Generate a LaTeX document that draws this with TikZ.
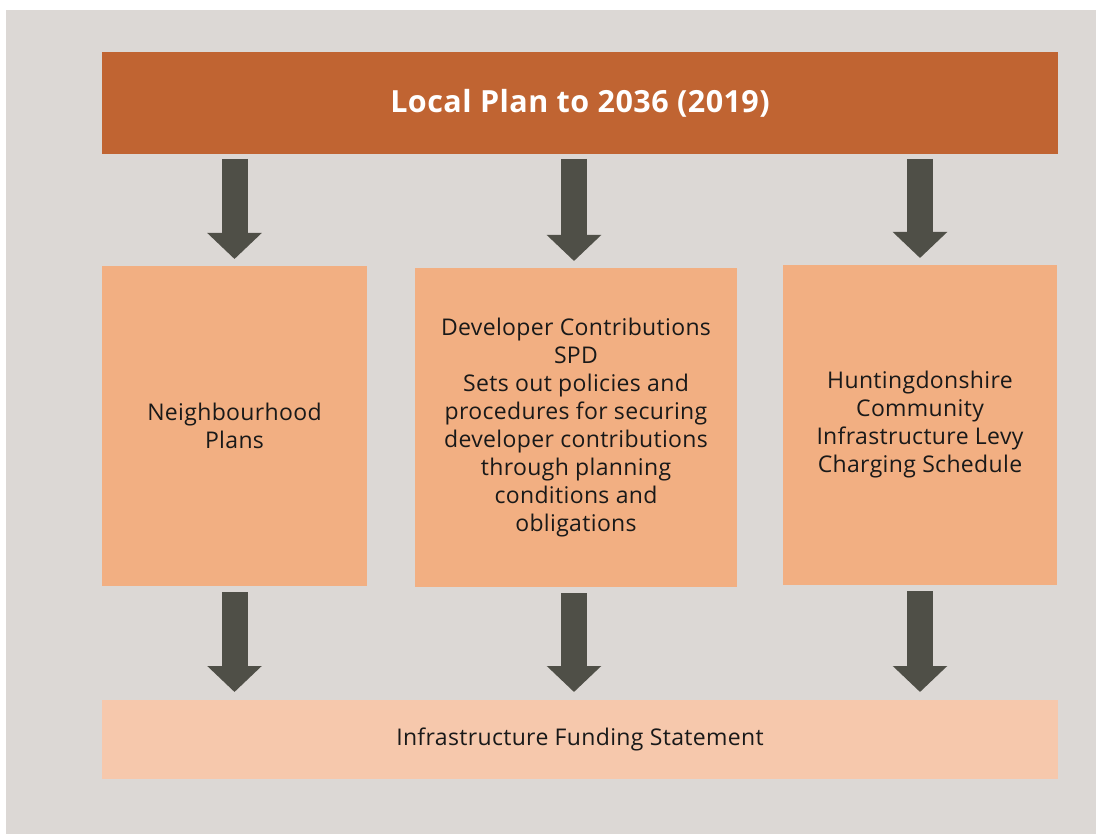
\documentclass[tikz,border=0pt]{standalone}
\usepackage{fontspec}
\setmainfont{Open Sans}[LetterSpace=1.5]
\definecolor{backdrop}{HTML}{DCD8D5}
\definecolor{rust}{HTML}{C06432}
\definecolor{peach}{HTML}{F2AF82}
\definecolor{blush}{HTML}{F6C8AC}
\definecolor{slate}{HTML}{4F4F47}
\usetikzlibrary{arrows.meta}

\begin{document}
\begin{tikzpicture}[
  x=1pt, y=-1pt,
  plan/.style={fill=rust, text=white, minimum width=956pt, minimum height=102pt,
               inner sep=0pt, outer sep=0pt, font=\fontsize{30.5}{34}\selectfont\bfseries},
  doc/.style={fill=peach, text=black!90, align=center, inner sep=0pt, outer sep=0pt,
              font=\fontsize{23}{28}\selectfont},
  bigarrow/.style={slate, line width=26pt,
                   -{Triangle[width=53pt, length=26pt]}},
]
\useasboundingbox (0,0) rectangle (1096,834);
\fill[backdrop] (6,10) rectangle (1096,834);

\node[plan] (local) at (580,103) {\raisebox{-3pt}{Local Plan to 2036 (2019)}};

\node[doc, minimum width=265pt, minimum height=320pt] (neigh) at (234.5,426)
  {Neighbourhood\\Plans};
\node[doc, minimum width=322pt, minimum height=319pt] (spd) at (576,427.5)
  {Developer Contributions\\SPD\\Sets out policies and\\procedures for securing\\developer contributions\\through planning\\conditions and\\obligations};
\node[doc, minimum width=274pt, minimum height=320pt] (cil) at (920,425)
  {Huntingdonshire\\Community\\Infrastructure Levy\\Charging Schedule};

\node[doc, fill=blush, minimum width=956pt, minimum height=79pt] (ifs) at (580,739.5)
  {Infrastructure Funding Statement};

% arrows down from the plan and into the statement
\foreach \doc/\shift in {neigh/0, spd/-2, cil/0} {
  \draw[bigarrow, shorten <=5pt, shorten >=7pt]
    ([xshift=\shift pt]local.south -| \doc.north) -- ([xshift=\shift pt]\doc.north);
  \draw[bigarrow, shorten <=6pt, shorten >=8pt]
    ([xshift=\shift pt]\doc.south) -- ([xshift=\shift pt]ifs.north -| \doc.south);
}
\end{tikzpicture}
\end{document}
